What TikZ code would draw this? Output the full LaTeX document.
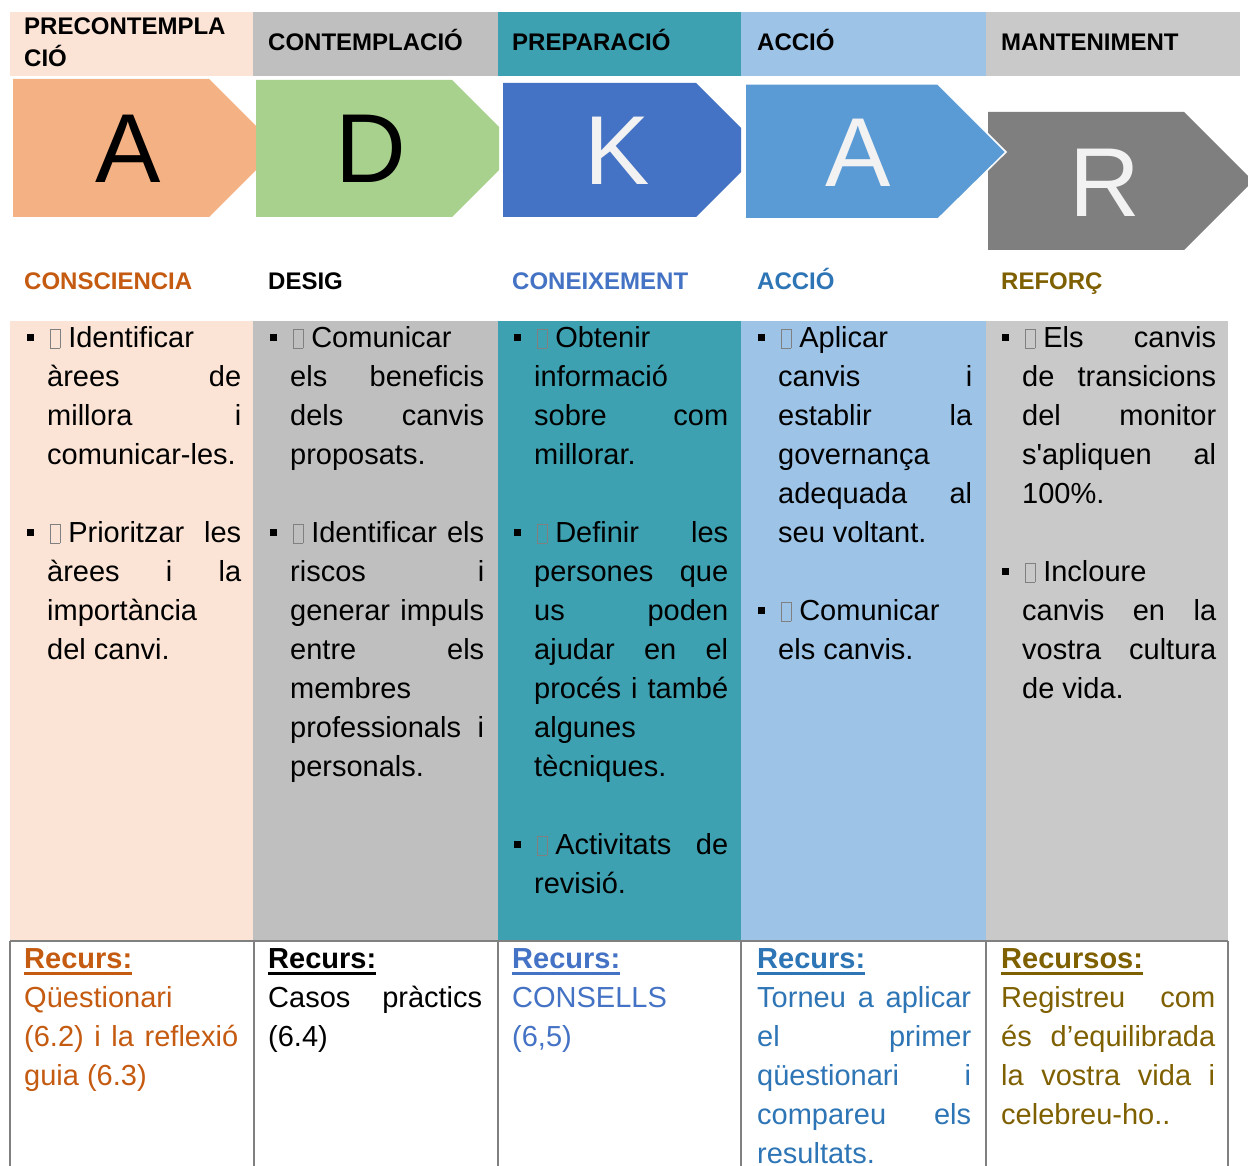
\documentclass[tikz,border=0pt]{standalone}
\usepackage{fontspec}
\newfontfamily\arial{Liberation Sans}

\definecolor{peach}{HTML}{FBE4D5}
\definecolor{grayA}{HTML}{BFBFBF}
\definecolor{tealcol}{HTML}{3DA1B1}
\definecolor{skyblue}{HTML}{9DC3E6}
\definecolor{grayB}{HTML}{C9C9C9}
\definecolor{chevA}{HTML}{F4B183}
\definecolor{chevD}{HTML}{A9D18E}
\definecolor{chevK}{HTML}{4472C4}
\definecolor{chevAA}{HTML}{5B9BD5}
\definecolor{chevR}{HTML}{7F7F7F}
\definecolor{orangeT}{HTML}{C55A11}
\definecolor{blueT}{HTML}{4472C4}
\definecolor{blueU}{HTML}{2E75B6}
\definecolor{goldT}{HTML}{7F6000}

\newcommand{\sqbullet}{\leavevmode\llap{\rule[7pt]{7pt}{7pt}\hspace{13pt}}}
\newcommand{\nobox}{\hspace{3pt}{\color{black!50}\setlength{\fboxrule}{0.8pt}\setlength{\fboxsep}{0pt}\fbox{\rule{0pt}{18.5pt}\hspace{8.5pt}}}\hspace{8pt}}
\newcommand{\recurs}[1]{\setbox0\hbox{\bfseries #1}\rlap{\rule[-6.5pt]{\wd0}{3pt}}\box0}
\hyphenpenalty=10000
\exhyphenpenalty=10000
\tolerance=10000

\begin{document}
\begin{tikzpicture}[x=1pt, y=-1pt,
    hdr/.style={anchor=base west, inner sep=0, align=left, font=\arial\bfseries\fontsize{24}{32}\selectfont},
    body/.style={anchor=base west, inner sep=0, text width=194pt, align=justify, font=\arial\fontsize{29}{39}\selectfont},
    res/.style={anchor=base west, inner sep=0, text width=214pt, align=justify, font=\arial\fontsize{29}{39}\selectfont},
    letter/.style={anchor=base, inner sep=0, font=\arial\fontsize{98}{98}\selectfont},
    grid/.style={draw=black!50, line width=2pt}]
    \useasboundingbox (0,0) rectangle (1248,1166);
    \fill[white] (0,0) rectangle (1248,1166);

    \fill[peach] (10,12) rectangle (253,76);
    \fill[grayA] (253,12) rectangle (498,76);
    \fill[tealcol] (498,12) rectangle (741,76);
    \fill[skyblue] (741,12) rectangle (986,76);
    \fill[grayB] (986,12) rectangle (1240,76);

    \node[hdr] (h1) at (24,67) {PRECONTEMPLA\\CIÓ};
    \node[hdr] (h2) at (268,51) {CONTEMPLACIÓ};
    \node[hdr] (h3) at (512,51) {PREPARACIÓ};
    \node[hdr] (h4) at (757,51) {ACCIÓ};
    \node[hdr] (h5) at (1001,51) {MANTENIMENT};

    \fill[chevA] (13,79) -- (209,79) -- (256,126) -- (256,170) -- (209,217) -- (13,217) -- cycle;
    \fill[chevD] (256,80) -- (452,80) -- (499,127) -- (499,170) -- (452,217) -- (256,217) -- cycle;
    \fill[chevK] (503,83) -- (696,83) -- (741,128) -- (741,172) -- (696,217) -- (503,217) -- cycle;
    \fill[chevR] (988,112) -- (1184,112) -- (1253,181) -- (1184,250) -- (988,250) -- cycle;
    \filldraw[fill=chevAA, draw=white, line width=1.5pt] (745,84) -- (938,84) -- (1006,152) -- (938,219) -- (745,219) -- cycle;

    \node[letter] (l1) at (128,183) {A};
    \node[letter] (l2) at (371,183) {D};
    \node[letter, text=black!5] (l3) at (617,185) {K};
    \node[letter, text=black!5] (l4) at (858,187) {A};
    \node[letter, text=black!5] (l5) at (1105,217) {R};

    \node[hdr, text=orangeT] (s1) at (24,290) {CONSCIENCIA};
    \node[hdr] (s2) at (268,290) {DESIG};
    \node[hdr, text=blueT] (s3) at (512,290) {CONEIXEMENT};
    \node[hdr, text=blueU] (s4) at (757,290) {ACCIÓ};
    \node[hdr, text=goldT] (s5) at (1001,290) {REFORÇ};

    \fill[peach] (10,321) rectangle (253,941);
    \fill[grayA] (253,321) rectangle (498,941);
    \fill[tealcol] (498,321) rectangle (741,941);
    \fill[skyblue] (741,321) rectangle (986,941);
    \fill[grayB] (986,321) rectangle (1228,941);

    \node[body] (b1) at (47,348) {\sqbullet\nobox Identificar\linebreak àrees de\linebreak millora i\linebreak comunicar-les.\par\vspace{39pt}
      \sqbullet\nobox Prioritzar les\linebreak àrees i la\linebreak importància\linebreak del canvi.};
    \node[body] (b2) at (290,348) {\sqbullet\nobox Comunicar\linebreak els beneficis\linebreak dels canvis\linebreak proposats.\par\vspace{39pt}
      \sqbullet\nobox Identificar els\linebreak riscos i\linebreak generar impuls\linebreak entre els\linebreak membres\linebreak professionals i\linebreak personals.};
    \node[body] (b3) at (534,348) {\sqbullet\nobox Obtenir\linebreak informació\linebreak sobre com\linebreak millorar.\par\vspace{39pt}
      \sqbullet\nobox Definir les\linebreak persones que\linebreak us poden\linebreak ajudar en el\linebreak procés i també\linebreak algunes\linebreak tècniques.\par\vspace{39pt}
      \sqbullet\nobox Activitats de\linebreak revisió.};
    \node[body] (b4) at (778,348) {\sqbullet\nobox Aplicar\linebreak canvis i\linebreak establir la\linebreak governança\linebreak adequada al\linebreak seu voltant.\par\vspace{39pt}
      \sqbullet\nobox Comunicar\linebreak els canvis.};
    \node[body] (b5) at (1022,348) {\sqbullet\nobox Els canvis\linebreak de transicions\linebreak del monitor\linebreak s'apliquen al\linebreak 100\%.\par\vspace{39pt}
      \sqbullet\nobox Incloure\linebreak canvis en la\linebreak vostra cultura\linebreak de vida.};

    \draw[grid] (10,941) -- (1228,941);
    \draw[grid] (10,941) -- (10,1170);
    \draw[grid] (254,941) -- (254,1170);
    \draw[grid] (498,941) -- (498,1170);
    \draw[grid] (741,941) -- (741,1170);
    \draw[grid] (986,941) -- (986,1170);
    \draw[grid] (1228,941) -- (1228,1170);

    \node[res, text=orangeT] (r1) at (24,968) {\recurs{Recurs:}\par Qüestionari\linebreak (6.2) i la reflexió\linebreak guia (6.3)};
    \node[res] (r2) at (268,968) {\recurs{Recurs:}\par Casos pràctics\linebreak (6.4)};
    \node[res, text=blueT] (r3) at (512,968) {\recurs{Recurs:}\par CONSELLS\linebreak (6,5)};
    \node[res, text=blueU] (r4) at (757,968) {\recurs{Recurs:}\par Torneu a aplicar\linebreak el primer\linebreak qüestionari i\linebreak compareu els\linebreak resultats.};
    \node[res, text=goldT] (r5) at (1001,968) {\recurs{Recursos:}\par Registreu com\linebreak és d’equilibrada\linebreak la vostra vida i\linebreak celebreu-ho..};
\end{tikzpicture}
\end{document}
